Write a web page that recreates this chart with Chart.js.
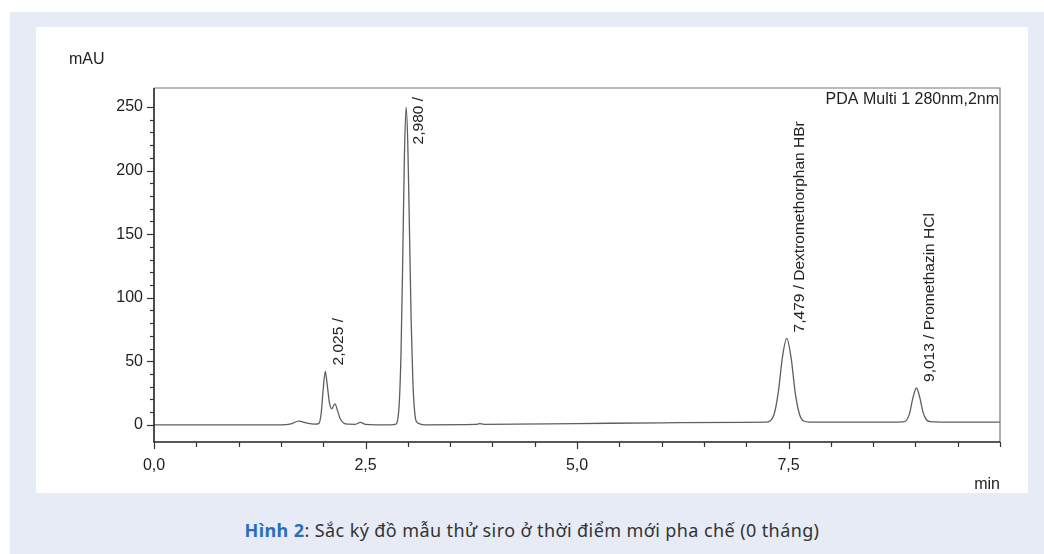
<!DOCTYPE html>
<html>
<head>
<meta charset="utf-8">
<script src="https://cdn.jsdelivr.net/npm/chart.js@4.4.1/dist/chart.umd.min.js"></script>
<style>
  html, body { margin:0; padding:0; background:#fff; }
  body { width:1044px; height:554px; position:relative; overflow:hidden; }
  #bg { position:absolute; left:10px; top:12px; width:1034px; height:542px; background:#e6ebf6; }
  #panel { position:absolute; left:36px; top:27px; width:992px; height:466px; background:#fff; }
  #caption { position:absolute; left:10px; width:1044px; top:518px; text-align:center;
             font-family:"Noto Sans", sans-serif; font-size:18px; letter-spacing:0.4px; color:#333; line-height:24px; }
  #caption b { color:#2a6ebb; }
</style>
</head>
<body>
<div id="bg"></div>
<div id="panel"><canvas id="chrom" width="992" height="466"></canvas></div>
<div id="caption"><b>Hình 2</b>: Sắc ký đồ mẫu thử siro ở thời điểm mới pha chế (0 tháng)</div>
<script>
// retention time (min) and absorbance (mAU)
const times  = [0, 1.50, 1.62, 1.71, 1.80, 1.90, 1.95, 1.975, 2.00, 2.025, 2.05, 2.075, 2.10, 2.14, 2.17, 2.20, 2.24, 2.30,
                2.38, 2.44, 2.50, 2.80, 2.86, 2.88, 2.90, 2.92, 2.94, 2.96, 2.98, 3.00, 3.02, 3.04, 3.06, 3.08, 3.10,
                3.14, 3.20, 3.80, 3.85, 3.90, 5.0, 6.0, 7.0, 7.23, 7.28, 7.33, 7.38, 7.43, 7.479, 7.53, 7.58, 7.63,
                7.68, 7.75, 8.80, 8.85, 8.89, 8.93, 8.97, 9.013, 9.05, 9.09, 9.13, 9.18, 9.30, 10];
const absorb = [0, 0, 0.8, 3, 1.5, 0.6, 1.2, 8.5, 28, 42, 30, 17, 12.6, 16.5, 11, 5, 1.5, 0.5,
                0.4, 2, 0.4, 0, 0.5, 4, 18, 57, 130, 212, 250, 221, 152, 81, 34, 11, 2.8,
                0.8, 0, 0.3, 1, 0.4, 1, 1.6, 2.0, 2.1, 3.0, 8.3, 26, 54, 68, 53, 25, 8.3,
                3.0, 2.2, 2.2, 2.3, 3.3, 8.6, 21, 29, 22, 10, 4, 2.5, 2.2, 2.2];

const peakTimes   = [2.025, 2.980, 7.479, 9.013];
const peakHeights = [42, 250, 68, 29];
const peakLabels  = ['2,025 /', '2,980 /', '7,479 / Dextromethorphan HBr', '9,013 / Promethazin HCl'];

const xMajor = [0, 2.5, 5, 7.5];
const xTickLabels = ['0,0', '2,5', '5,0', '7,5'];
const yMajor = [0, 50, 100, 150, 200, 250];
const yTickLabels = ['0', '50', '100', '150', '200', '250'];

const FONT = '"Liberation Sans", Arial, sans-serif';

function near(v, list) {
  return list.findIndex(m => Math.abs(m - v) < 1e-6);
}

const decor = {
  id: 'decor',
  afterDraw(chart) {
    const { ctx, chartArea: a, scales: { x, y } } = chart;
    ctx.save();
    // frame
    ctx.strokeStyle = '#777'; ctx.lineWidth = 1.2;
    ctx.beginPath(); ctx.moveTo(a.left, a.top); ctx.lineTo(a.right, a.top); ctx.lineTo(a.right, a.bottom); ctx.stroke();
    ctx.strokeStyle = '#222'; ctx.lineWidth = 1.6;
    ctx.beginPath(); ctx.moveTo(a.left, a.top); ctx.lineTo(a.left, a.bottom); ctx.lineTo(a.right, a.bottom); ctx.stroke();

    // tick marks
    ctx.lineWidth = 1.2; ctx.strokeStyle = '#333';
    y.ticks.forEach(t => {
      if (Math.abs(t.value % 10) > 1e-6) return;
      const py = Math.round(y.getPixelForValue(t.value)) + 0.5;
      const len = near(t.value, yMajor) >= 0 ? 7 : 4;
      ctx.beginPath(); ctx.moveTo(a.left - len, py); ctx.lineTo(a.left, py); ctx.stroke();
    });
    x.ticks.forEach(t => {
      const px = Math.round(x.getPixelForValue(t.value)) + 0.5;
      const len = near(t.value, xMajor) >= 0 ? 7 : 5;
      ctx.beginPath(); ctx.moveTo(px, a.bottom); ctx.lineTo(px, a.bottom + len); ctx.stroke();
    });

    // texts
    ctx.fillStyle = '#222';
    ctx.font = '16px ' + FONT;
    ctx.textBaseline = 'top';
    ctx.textAlign = 'left';
    ctx.fillText('mAU', 33, 25);
    ctx.textAlign = 'right';
    ctx.fillText('PDA Multi 1 280nm,2nm', a.right - 1, a.top + 4);
    ctx.fillText('min', a.right, a.bottom + 35);

    // peak labels
    ctx.font = '15.5px ' + FONT;
    ctx.textAlign = 'left';
    ctx.textBaseline = 'middle';
    peakTimes.forEach((t, i) => {
      const w = ctx.measureText(peakLabels[i]).width;
      const px = x.getPixelForValue(t) + 13;
      const py = Math.max(y.getPixelForValue(peakHeights[i]) - 6, a.top + 9 + w);
      ctx.save();
      ctx.translate(px, py);
      ctx.rotate(-Math.PI / 2);
      ctx.fillText(peakLabels[i], 0, 0);
      ctx.restore();
    });
    ctx.restore();
  }
};

new Chart(document.getElementById('chrom'), {
  type: 'line',
  data: {
    datasets: [{
      data: times.map((t, i) => ({ x: t, y: absorb[i] })),
      borderColor: '#5e5e5e',
      borderWidth: 1.3,
      pointRadius: 0,
      cubicInterpolationMode: 'monotone',
      fill: false
    }]
  },
  options: {
    responsive: false,
    animation: false,
    layout: { padding: { left: 0, top: 61, right: 28, bottom: 0 } },
    plugins: { legend: { display: false }, tooltip: { enabled: false } },
    scales: {
      x: {
        type: 'linear', min: 0, max: 10,
        grid: { display: false, drawTicks: false },
        border: { display: false },
        afterFit: s => { s.height = 51; },
        ticks: {
          stepSize: 0.5, autoSkip: false, maxRotation: 0, padding: 14,
          color: '#222', font: { family: FONT, size: 16 },
          callback: v => { const k = near(v, xMajor); return k >= 0 ? xTickLabels[k] : ''; }
        }
      },
      y: {
        min: -13.5, max: 265,
        grid: { display: false, drawTicks: false },
        border: { display: false },
        afterFit: s => { s.width = 118; },
        ticks: {
          stepSize: 10, autoSkip: false, padding: 11,
          color: '#222', font: { family: FONT, size: 16 },
          callback: v => { const k = near(v, yMajor); return k >= 0 ? yTickLabels[k] : ''; }
        }
      }
    }
  },
  plugins: [decor]
});
</script>
</body>
</html>
